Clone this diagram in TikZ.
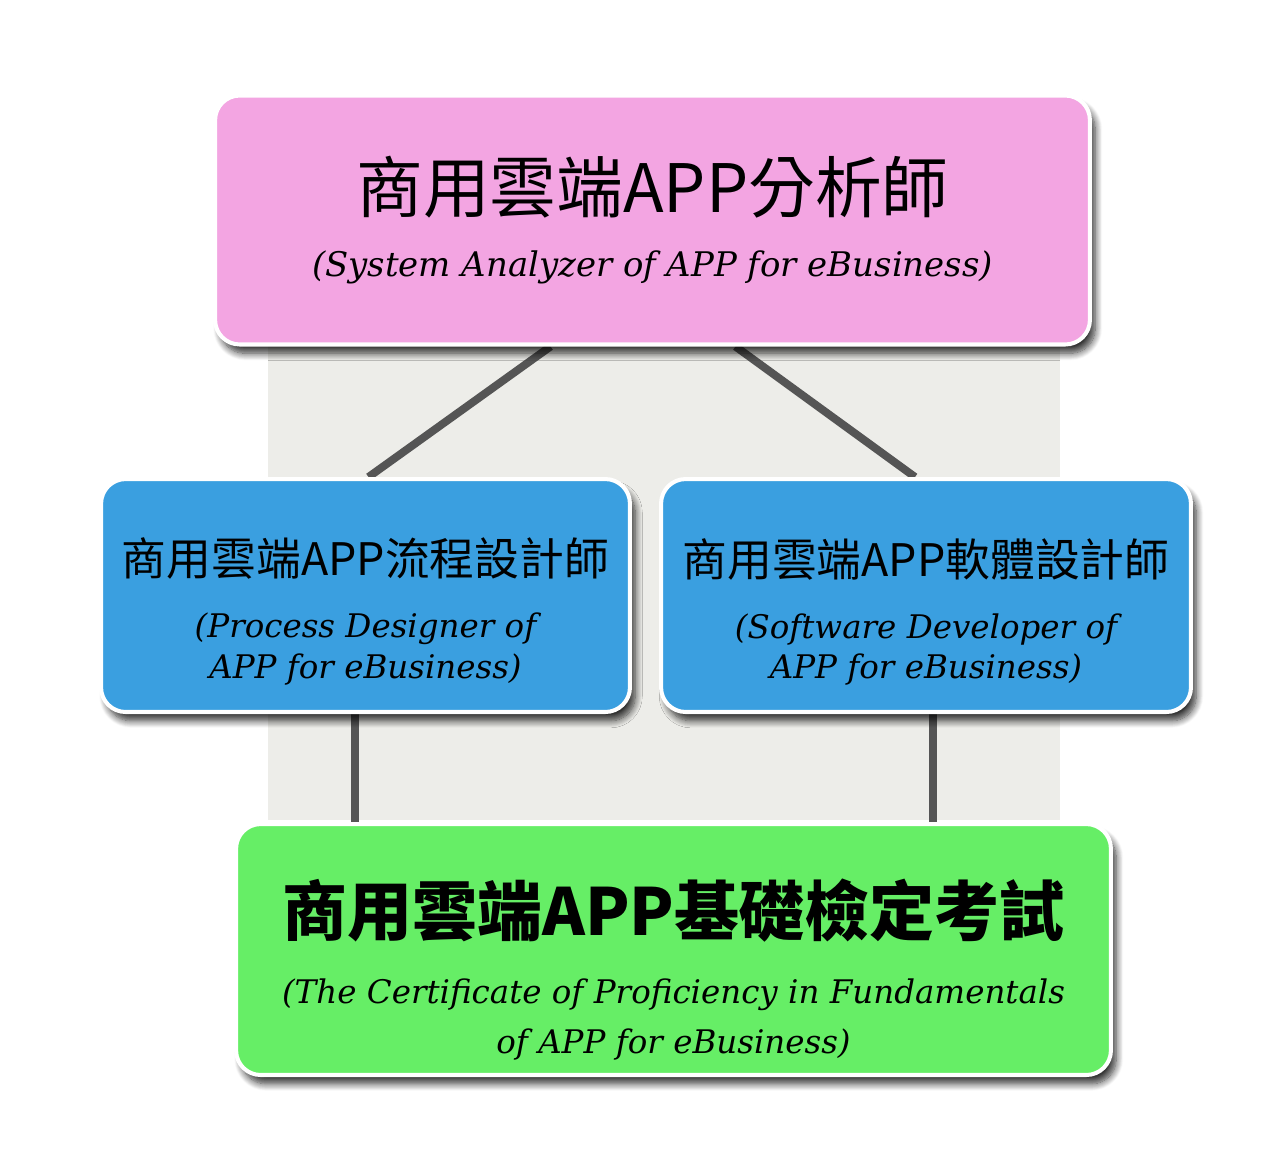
\documentclass[tikz,border=0pt]{standalone}
\usepackage{fontspec}
\newfontfamily\cjk{Noto Sans CJK TC}
\newfontfamily\slab{DejaVu Serif}
\usepackage{tikz}
\usetikzlibrary{positioning,calc,backgrounds,shadows.blur}
\definecolor{pinkbox}{HTML}{F3A5E2}
\definecolor{bluebox}{HTML}{3A9FE0}
\definecolor{greenbox}{HTML}{66EE66}
\definecolor{panel}{HTML}{EDEDE9}
\definecolor{linkgray}{HTML}{555555}
\newcommand{\bigzh}{\cjk\fontsize{38}{44}\selectfont}
\newcommand{\midzh}{\cjk\fontsize{25.5}{30}\selectfont}
\newcommand{\eng}[1]{\slab\itshape\fontsize{#1}{#1}\selectfont}

\begin{document}
\begin{tikzpicture}[x=0.02cm,y=-0.02cm,
 box/.style={draw=white,line width=2.3pt,rounded corners=14pt,align=center,inner sep=0pt,
   blur shadow={shadow xshift=3pt,shadow yshift=-5pt,shadow blur steps=10,shadow blur radius=4pt,shadow opacity=80}},
 link/.style={draw=linkgray,line width=4.5pt}]
\useasboundingbox (0,0) rectangle (1280,1161);
\node[box,fill=pinkbox,minimum width=17.5cm,minimum height=4.98cm] (top) at (652.5,220)
 {\bigzh 商用雲端APP分析師\\[18pt]
  \eng{19.3}(System Analyzer of APP for eBusiness)};
\node[box,fill=bluebox,minimum width=10.58cm,minimum height=4.66cm] (procd) at (365.5,595.5)
 {\midzh\rule{0pt}{40pt}商用雲端APP流程設計師\\[18pt]
  \eng{18.5}(Process Designer of\\[4pt] \eng{18.5}APP for eBusiness)};
\node[box,fill=bluebox,minimum width=10.6cm,minimum height=4.66cm] (softd) at (926,595.5)
 {\midzh\rule{0pt}{40pt}商用雲端APP軟體設計師\\[18pt]
  \eng{18.5}(Software Developer of\\[4pt] \eng{18.5}APP for eBusiness)};
\node[box,fill=greenbox,minimum width=17.5cm,minimum height=5.02cm] (cert) at (673.5,949.5)
 {\cjk\bfseries\fontsize{37}{44}\selectfont\rule{0pt}{55pt}商用雲端APP基礎檢定考試\\[20pt]
  \eng{18.5}(The Certificate of Proficiency in Fundamentals\\[9.5pt] \eng{18.5}of APP for eBusiness)};
\begin{scope}[on background layer]
\fill[panel] (268,330) rectangle (1060,820);
\draw[link] ($(top.south)+(-102,0)$) -- ($(procd.north)+(3,0)$);
\draw[link] ($(top.south)+(83,0)$) -- ($(softd.north)+(-11,0)$);
\draw[link] (procd.south -| 355,0) -- (cert.north -| 355,0);
\draw[link] (softd.south -| 933,0) -- (cert.north -| 933,0);
\end{scope}
\end{tikzpicture}
\end{document}
